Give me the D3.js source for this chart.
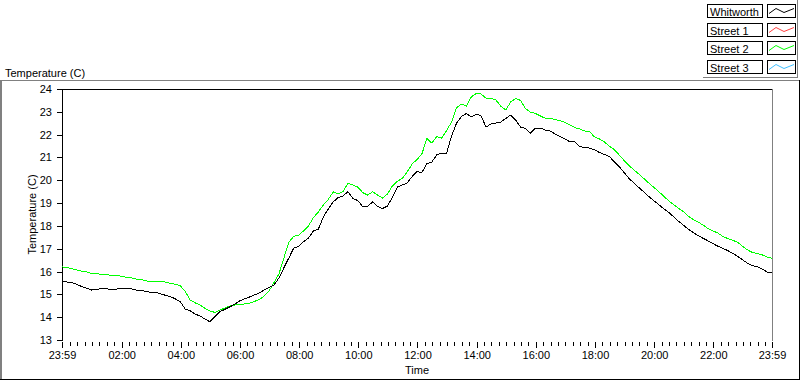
<!DOCTYPE html>
<html>
<head>
<meta charset="utf-8">
<script src="https://cdn.jsdelivr.net/npm/d3@7"></script>
<style>
  body { margin: 0; background: #fff; }
  svg { display: block; font-family: "Liberation Sans", Arial, sans-serif; font-size: 11px; }
  .tick text { font-size: 11px; fill: #000; }
</style>
</head>
<body>
<svg id="chart" width="800" height="380"></svg>
<script>
// samples every 10 minutes, starting 23:59
var sampleStepMinutes = 10;

var whitworth = [
  15.57, 15.54, 15.51, 15.44, 15.34, 15.27, 15.19, 15.22, 15.25, 15.25,
  15.19, 15.23, 15.25, 15.25, 15.25, 15.19, 15.18, 15.12, 15.09, 15.09,
  15.02, 14.96, 14.90, 14.80, 14.68, 14.35, 14.28, 14.14, 14.05, 13.92,
  13.80, 14.02, 14.24, 14.34, 14.45, 14.56, 14.71, 14.80, 14.88, 14.97,
  15.06, 15.19, 15.30, 15.41, 15.72, 16.16, 16.59, 17.03, 17.10, 17.31,
  17.47, 17.78, 17.86, 18.39, 18.74, 19.05, 19.24, 19.31, 19.50, 19.20,
  19.11, 18.84, 18.87, 19.05, 18.85, 18.76, 18.87, 19.24, 19.70, 19.79,
  19.88, 20.16, 20.38, 20.34, 20.73, 20.80, 21.11, 21.19, 21.19, 21.94,
  22.49, 22.79, 22.93, 22.77, 22.90, 22.82, 22.33, 22.47, 22.51, 22.55,
  22.71, 22.86, 22.64, 22.33, 22.27, 22.07, 22.28, 22.29, 22.20, 22.16,
  22.03, 21.92, 21.81, 21.69, 21.69, 21.48, 21.44, 21.41, 21.33, 21.22,
  21.13, 21.04, 20.82, 20.60, 20.34, 20.08, 19.88, 19.68, 19.49, 19.29,
  19.11, 18.94, 18.76, 18.60, 18.41, 18.21, 18.04, 17.86, 17.71, 17.58,
  17.46, 17.35, 17.23, 17.11, 17.02, 16.92, 16.80, 16.67, 16.52, 16.37,
  16.26, 16.21, 16.11, 15.98, 15.98
];

var street1 = [];

var street2 = [
  16.20, 16.19, 16.12, 16.07, 16.02, 15.98, 15.92, 15.91, 15.88, 15.86,
  15.84, 15.82, 15.80, 15.75, 15.73, 15.67, 15.66, 15.59, 15.57, 15.57,
  15.57, 15.54, 15.48, 15.44, 15.38, 15.12, 14.75, 14.63, 14.53, 14.39,
  14.27, 14.21, 14.31, 14.40, 14.49, 14.53, 14.56, 14.58, 14.61, 14.69,
  14.77, 14.93, 15.15, 15.52, 15.89, 16.59, 17.29, 17.54, 17.60, 17.78,
  18.00, 18.37, 18.61, 18.92, 19.16, 19.49, 19.40, 19.51, 19.87, 19.79,
  19.70, 19.46, 19.35, 19.50, 19.35, 19.22, 19.40, 19.75, 19.95, 20.08,
  20.36, 20.71, 20.91, 21.16, 21.83, 21.63, 21.92, 21.85, 22.18, 22.55,
  23.17, 23.34, 23.25, 23.65, 23.80, 23.78, 23.60, 23.59, 23.52, 23.25,
  23.08, 23.43, 23.59, 23.50, 23.15, 22.99, 22.93, 22.82, 22.72, 22.71,
  22.66, 22.62, 22.53, 22.42, 22.31, 22.25, 22.16, 22.13, 21.90, 21.81,
  21.68, 21.50, 21.35, 21.11, 20.87, 20.65, 20.45, 20.27, 20.08, 19.88,
  19.70, 19.51, 19.31, 19.11, 18.94, 18.78, 18.63, 18.43, 18.28, 18.17,
  18.04, 17.89, 17.78, 17.69, 17.54, 17.45, 17.37, 17.29, 17.11, 16.95,
  16.84, 16.79, 16.73, 16.64, 16.58
];

var street3 = [];

var seriesNames = ["Whitworth", "Street 1", "Street 2", "Street 3"];
var seriesColors = ["#000000", "#ff4040", "#00ff00", "#40c0ff"];
var seriesValues = [whitworth, street1, street2, street3];

var yTicks = [13, 14, 15, 16, 17, 18, 19, 20, 21, 22, 23, 24];

(function() {
  var svg = d3.select("#chart");
  var fmt = d3.utcFormat("%H:%M");
  var start = new Date(Date.UTC(2000, 0, 1, 23, 59));
  var end = new Date(Date.UTC(2000, 0, 2, 23, 59));

  var pLeft = 62, pRight = 772, pTop = 89, pBottom = 340;

  var x = d3.scaleUtc().domain([start, end]).range([pLeft, pRight]);
  var y = d3.scaleLinear().domain([13, 24]).range([pBottom, pTop]);

  // outer panel (sunken look)
  svg.append("line").attr("x1", 0).attr("x2", 799).attr("y1", 80.5).attr("y2", 80.5).attr("stroke", "#808080");
  svg.append("line").attr("x1", 1).attr("x2", 1).attr("y1", 80).attr("y2", 380).attr("stroke", "#808080").attr("stroke-width", 2);
  svg.append("line").attr("x1", 0).attr("x2", 800).attr("y1", 379.5).attr("y2", 379.5).attr("stroke", "#000");
  svg.append("line").attr("x1", 799.5).attr("x2", 799.5).attr("y1", 80).attr("y2", 380).attr("stroke", "#000");

  svg.append("text").attr("x", 5).attr("y", 77).text("Temperature (C)");

  // plot frame
  svg.append("line").attr("x1", pLeft).attr("x2", pRight).attr("y1", pTop + 0.5).attr("y2", pTop + 0.5).attr("stroke", "#000");
  svg.append("line").attr("x1", pRight + 0.5).attr("x2", pRight + 0.5).attr("y1", pTop).attr("y2", pBottom + 1).attr("stroke", "#808080");
  svg.append("line").attr("x1", pLeft + 0.5).attr("x2", pLeft + 0.5).attr("y1", pTop).attr("y2", pBottom + 1).attr("stroke", "#000");

  // y axis
  var gy = svg.append("g")
    .attr("transform", "translate(" + pLeft + ",0)")
    .call(d3.axisLeft(y).tickValues(yTicks).tickSize(5).tickPadding(5).tickFormat(d3.format("d")));
  gy.select(".domain").remove();

  // x axis: minor ticks every 15 min, major every 2 hours plus both ends
  var minor = d3.utcMinute.every(15).range(start, end);
  var inner = d3.utcHour.every(2).range(start, end).filter(function(d) {
    return d - start > 3600e3 && end - d > 3600e3;
  });
  var major = [start].concat(inner).concat([end]);

  var gxMinor = svg.append("g")
    .attr("transform", "translate(0," + (pBottom + 2) + ")")
    .call(d3.axisBottom(x).tickValues(minor).tickSize(4).tickFormat(""));
  gxMinor.select(".domain").remove();

  var gx = svg.append("g")
    .attr("transform", "translate(0," + (pBottom + 2) + ")")
    .call(d3.axisBottom(x).tickValues(major).tickSize(6).tickPadding(3).tickFormat(fmt));
  gx.select(".domain").remove();
  svg.selectAll(".tick line").attr("stroke", "#000").attr("shape-rendering", "crispEdges");

  svg.append("text").attr("x", (pLeft + pRight) / 2).attr("y", 374).attr("text-anchor", "middle").text("Time");
  svg.append("text")
    .attr("transform", "translate(36," + ((pTop + pBottom) / 2) + ") rotate(-90)")
    .attr("text-anchor", "middle")
    .text("Temperature (C)");

  // series
  var line = d3.line()
    .x(function(d, i) { return x(d3.utcMinute.offset(start, i * sampleStepMinutes)); })
    .y(function(d) { return y(d); });

  [2, 0].forEach(function(s) {
    if (!seriesValues[s].length) return;
    svg.append("path")
      .datum(seriesValues[s])
      .attr("fill", "none")
      .attr("stroke", seriesColors[s])
      .attr("stroke-width", 1)
      .attr("shape-rendering", "crispEdges")
      .attr("d", line);
  });

  // legend
  svg.append("line").attr("x1", 703).attr("x2", 798).attr("y1", 77.5).attr("y2", 77.5).attr("stroke", "#808080");
  svg.append("line").attr("x1", 797.5).attr("x2", 797.5).attr("y1", 0).attr("y2", 78).attr("stroke", "#808080");

  var swatch = d3.line();
  seriesNames.forEach(function(name, i) {
    var ty = Math.round(4 + i * 18.7) + 0.5;
    svg.append("rect").attr("x", 707.5).attr("y", ty).attr("width", 55).attr("height", 13)
      .attr("fill", "#fff").attr("stroke", "#000");
    svg.append("text").attr("x", 710).attr("y", ty + 11).text(name);
    svg.append("rect").attr("x", 767.5).attr("y", ty).attr("width", 28).attr("height", 13)
      .attr("fill", "#fff").attr("stroke", "#000");
    svg.append("path")
      .attr("d", swatch([[769, ty + 9], [776, ty + 4], [784, ty + 8], [794, ty + 4]]))
      .attr("fill", "none").attr("stroke", seriesColors[i]);
  });
})();
</script>
</body>
</html>
